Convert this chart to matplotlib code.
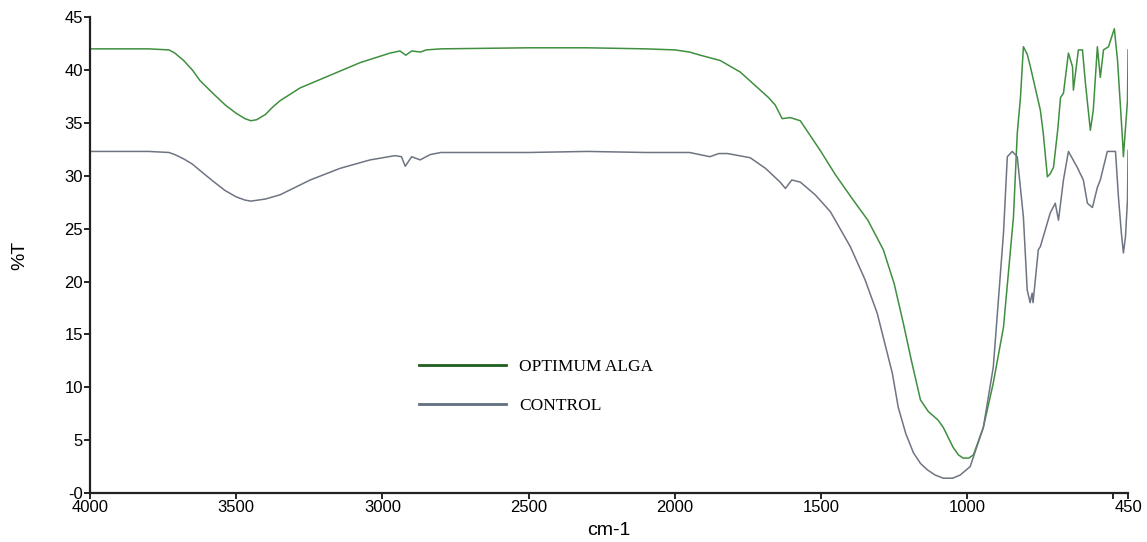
import numpy as np
import matplotlib
matplotlib.use("Agg")
import matplotlib.pyplot as plt

# FTIR spectra, wavenumber (cm-1) vs %T
alga_wn = [4000, 3800, 3730, 3710, 3680, 3650, 3624, 3580, 3538, 3500, 3470,
           3450, 3430, 3400, 3375, 3350, 3282, 3179, 3076, 2974, 2940, 2920,
           2900, 2870, 2850, 2800, 2500, 2300, 2100, 2000, 1950, 1913, 1845,
           1776, 1708, 1680, 1657, 1633, 1605, 1571, 1537, 1503, 1451, 1390,
           1340, 1287, 1250, 1219, 1190, 1160, 1133, 1100, 1082, 1048, 1030,
           1014, 995, 979, 945, 911, 876, 842, 829, 818, 808, 795, 784, 750,
           740, 726, 716, 705, 690, 681, 671, 654, 640, 637, 620, 606, 596,
           579, 569, 555, 545, 534, 517, 497, 486, 469, 466, 452, 450]
alga_t = [42.0, 42.0, 41.9, 41.6, 40.9, 40.0, 39.0, 37.8, 36.7, 35.9, 35.4,
          35.2, 35.3, 35.8, 36.5, 37.1, 38.3, 39.5, 40.7, 41.6, 41.8, 41.4,
          41.8, 41.7, 41.9, 42.0, 42.1, 42.1, 42.0, 41.9, 41.7, 41.4, 40.9,
          39.8, 38.1, 37.4, 36.7, 35.4, 35.5, 35.2, 33.8, 32.4, 30.1, 27.7,
          25.8, 23.0, 19.8, 16.1, 12.4, 8.8, 7.7, 6.9, 6.2, 4.3, 3.6, 3.3,
          3.3, 3.6, 6.2, 10.4, 15.7, 26.1, 34.0, 37.4, 42.2, 41.5, 40.3,
          36.2, 34.0, 29.9, 30.2, 30.8, 34.5, 37.4, 37.8, 41.6, 40.3, 38.1,
          41.9, 41.9, 38.8, 34.3, 36.2, 42.2, 39.3, 41.9, 42.2, 43.9, 40.9,
          33.4, 31.8, 37.1, 41.9]

ctrl_wn = [4000, 3800, 3730, 3710, 3680, 3650, 3624, 3580, 3538, 3500, 3470,
           3450, 3425, 3400, 3350, 3247, 3145, 3042, 2957, 2935, 2922, 2900,
           2871, 2837, 2800, 2500, 2300, 2100, 1950, 1880, 1850, 1820, 1780,
           1742, 1690, 1640, 1622, 1600, 1571, 1520, 1468, 1400, 1350, 1308,
           1256, 1236, 1210, 1184, 1160, 1137, 1110, 1082, 1050, 1024, 990,
           945, 911, 876, 863, 846, 829, 808, 795, 785, 778, 775, 757, 750,
           716, 699, 688, 671, 654, 624, 603, 589, 572, 555, 545, 521, 493,
           483, 473, 466, 459, 452, 450]
ctrl_t = [32.3, 32.3, 32.2, 32.0, 31.6, 31.1, 30.5, 29.5, 28.6, 28.0, 27.7,
          27.6, 27.7, 27.8, 28.2, 29.6, 30.7, 31.5, 31.9, 31.8, 30.9, 31.8,
          31.5, 32.0, 32.2, 32.2, 32.3, 32.2, 32.2, 31.8, 32.1, 32.1, 31.9,
          31.7, 30.7, 29.4, 28.8, 29.6, 29.4, 28.2, 26.6, 23.3, 20.2, 17.0,
          11.3, 8.1, 5.6, 3.8, 2.8, 2.2, 1.7, 1.4, 1.4, 1.7, 2.5, 6.2, 11.9,
          24.6, 31.8, 32.3, 31.8, 26.1, 19.2, 18.0, 18.9, 18.0, 23.0, 23.3,
          26.5, 27.4, 25.8, 29.6, 32.3, 30.8, 29.6, 27.4, 27.0, 28.9, 29.6,
          32.3, 32.3, 28.0, 24.6, 22.7, 24.2, 27.7, 32.4]

xticks = [4000, 3500, 3000, 2500, 2000, 1500, 1000, 500, 450]
xlabels = ['4000', '3500', '3000', '2500', '2000', '1500', '1000', '', '450']
yticks = [0, 5, 10, 15, 20, 25, 30, 35, 40, 45]
ylabels = ['-0', '5', '10', '15', '20', '25', '30', '35', '40', '45']

fig = plt.figure(figsize=(11.47, 5.42), dpi=100)
ax = fig.add_axes([0.0785, 0.0904, 0.905, 0.878])

ax.plot(alga_wn, alga_t, color='#3f8f3f', lw=1.1, label='OPTIMUM ALGA')
ax.plot(ctrl_wn, ctrl_t, color='#6e7482', lw=1.1, label='CONTROL')

ax.set_xlim(4000, 450)
ax.set_ylim(0, 45)
ax.set_xticks(xticks)
ax.set_xticklabels(xlabels)
ax.set_yticks(yticks)
ax.set_yticklabels(ylabels)

for s in ['top', 'right']:
    ax.spines[s].set_visible(False)
for s in ['left', 'bottom']:
    ax.spines[s].set_linewidth(1.6)
    ax.spines[s].set_color('#222222')

ax.tick_params(axis='both', labelsize=12, length=4, width=1.2, pad=1)
for lab in ax.get_xticklabels() + ax.get_yticklabels():
    lab.set_family('Liberation Sans')

ax.set_xlabel('cm-1', fontsize=14, family='Liberation Sans', labelpad=5)
ax.set_ylabel('%T', fontsize=14, family='Liberation Sans', labelpad=26)

leg = ax.legend(loc='upper left', bbox_to_anchor=(0.302, 0.315), frameon=False,
                prop={'family': 'Liberation Serif', 'size': 12.5},
                handlelength=5.0, handletextpad=0.75, labelspacing=1.3)
leg.get_lines()[0].set_color('#1f5f1f')
leg.get_lines()[1].set_color('#607080')
for ln in leg.get_lines():
    ln.set_linewidth(2.0)

fig.savefig('out.png', dpi=100)
